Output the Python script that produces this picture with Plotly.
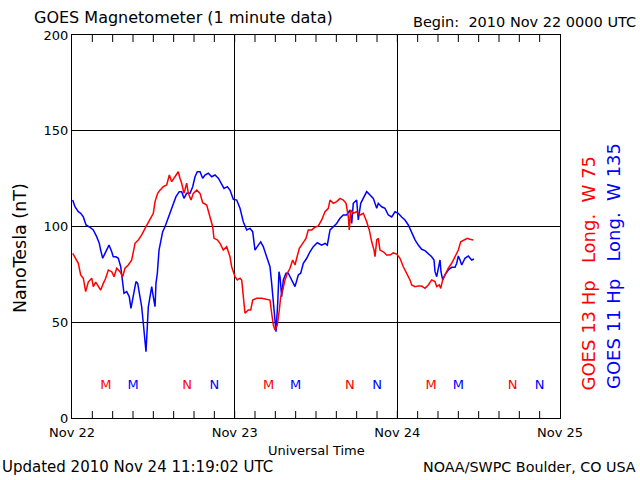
import pandas as pd
import plotly.graph_objects as go

# Hours since 2010-11-22 00:00 UTC and field values (nT)
g13_hours = [0.10, 0.44, 0.93, 1.28, 1.67, 2.02, 2.40, 2.91, 3.14, 3.50, 3.88, 4.23, 4.62, 4.97, 5.36, 5.86,
             6.20, 6.60, 7.08, 7.48, 7.82, 8.31, 8.81, 9.30, 9.78, 10.28, 10.92, 11.51, 12.00, 12.25, 12.64,
             12.98, 13.47, 13.97, 14.36, 14.71, 15.20, 15.68, 15.93, 16.18, 16.52, 16.92, 17.16, 17.56, 17.90,
             18.40, 18.89, 19.28, 19.87, 20.36, 20.76, 20.95, 21.44, 21.84, 22.32, 22.82, 23.31, 23.56, 24.05,
             24.39, 24.79, 25.04, 25.27, 25.52, 26.01, 26.37, 26.66, 27.25, 27.99, 28.73, 29.21, 29.46, 29.70,
             29.95, 30.29, 30.59, 30.79, 31.09, 31.43, 31.77, 32.16, 32.56, 32.90, 33.15, 33.54, 34.04, 34.52,
             34.86, 35.37, 35.85, 36.34, 36.84, 37.33, 37.81, 38.07, 38.55, 39.05, 39.54, 40.03, 40.43, 40.77,
             40.91, 41.12, 41.50, 42.00, 42.49, 42.98, 43.48, 43.86, 44.22, 44.56, 44.71, 44.96, 45.19, 45.44,
             45.93, 46.43, 46.92, 47.40, 47.91, 48.39, 48.88, 49.38, 49.87, 50.12, 50.61, 51.09, 51.59, 52.08,
             52.57, 53.07, 53.56, 53.81, 54.19, 54.40, 54.69, 55.03, 55.52, 56.02, 56.51, 57.00, 57.35, 57.98,
             58.32, 58.72, 59.21]
g13_values = [86, 84, 80.8, 74.7, 73, 66, 71, 73, 68.6, 71, 68.6, 66.8, 70.3, 73, 77.3, 76.4,
              73.8, 78.2, 76.4, 73.8, 78.2, 79.9, 82.5, 91.2, 93, 95.6, 99.9, 103.4, 106.9, 113, 117.3,
              119, 120.8, 121.7, 126.9, 123.4, 126, 128.6, 125.2, 122.6, 117.3, 122.6, 117.3, 113.8, 117.3,
              119, 117.3, 112.4, 111.2, 105, 99.9, 93.8, 93, 91.2, 87.7, 89.5, 84.2, 79, 73.8,
              72.1, 73, 72, 63.3, 54.7, 56.4, 56.4, 61.6, 62.5, 62.5, 62, 61.6, 54.7, 48.6,
              46, 48.6, 56.4, 63.3, 66.8, 72.1, 75.6, 78.2, 82.5, 79.9, 83.4, 88.6, 91.2, 93.8,
              98.2, 98.2, 99.6, 100.3, 103.4, 107.7, 109.5, 113.8, 112.1, 113, 114.7, 113.8, 112.1, 105,
              98.2, 108.6, 106.9, 107.7, 106, 106.9, 102.5, 98.2, 92, 87.7, 84.2, 93, 93.8, 87.7,
              86.8, 85.1, 85.1, 86.2, 85.6, 83.4, 79, 75.6, 72.1, 69.5, 68.6, 68.9, 68.9, 67.7,
              69.5, 72.1, 71.2, 68.6, 69.5, 67.7, 72.1, 74.7, 78.2, 80.8, 84.2, 87.7, 92, 93,
              93.8, 93.3, 93]

g11_hours = [0.10, 0.44, 0.93, 1.28, 1.67, 2.07, 2.66, 3.14, 3.64, 4.03, 4.23, 4.53, 4.87, 5.12, 5.46, 5.86,
             6.09, 6.49, 6.83, 7.19, 7.48, 7.67, 8.07, 8.45, 8.70, 9.04, 9.44, 9.69, 10.03, 10.28, 10.52,
             10.77, 10.92, 11.11, 11.26, 11.51, 11.76, 12.00, 12.25, 12.39, 12.59, 12.84, 13.09, 13.38, 13.72,
             14.06, 14.46, 14.95, 15.34, 15.83, 16.18, 16.52, 16.92, 17.41, 17.81, 18.15, 18.49, 18.89, 19.28,
             19.62, 20.11, 20.61, 21.10, 21.59, 22.09, 22.43, 22.91, 23.31, 23.80, 24.30, 24.79, 25.27, 25.78,
             26.26, 26.66, 27.00, 27.49, 27.84, 28.22, 28.73, 29.21, 29.46, 29.70, 29.85, 30.10, 30.35, 30.54,
             30.69, 30.94, 31.18, 31.57, 31.91, 32.41, 32.90, 33.39, 33.74, 34.13, 34.63, 35.11, 35.60, 36.19,
             36.84, 37.33, 37.67, 38.07, 38.55, 39.05, 39.54, 40.03, 40.53, 41.02, 41.27, 41.50, 42.00, 42.24,
             42.60, 42.98, 43.48, 43.97, 44.45, 44.96, 45.19, 45.69, 46.18, 46.67, 47.17, 47.66, 48.14, 48.64,
             49.13, 49.62, 50.12, 50.61, 51.09, 51.59, 52.08, 52.57, 53.07, 53.41, 53.56, 53.81, 54.04, 54.30,
             54.44, 54.69, 55.03, 55.52, 56.02, 56.51, 56.76, 57.00, 57.25, 57.50, 57.98, 58.47, 58.97, 59.31]
g11_values = [113.8, 110.3, 107.7, 106.9, 105, 100.8, 99.6, 98.2, 94.7, 91.2, 87.7, 83.4, 86, 87.7, 90.3, 86.8,
              84.2, 84.2, 83.4, 79, 70.3, 65.1, 66, 63.3, 57.3, 63.3, 71.2, 70.3, 63.3, 58.1, 49.5,
              40.7, 34.6, 47.7, 58.1, 63.3, 68.6, 63.3, 58.1, 70.3, 75.6, 87.7, 93, 97.3, 99.9,
              103.4, 106.9, 112.1, 115.6, 118.2, 118.2, 114.7, 117.3, 117.3, 120.8, 126, 128.6, 128.6, 125.2,
              126.9, 127.8, 126, 126.9, 125.2, 121.7, 119.9, 120.8, 119, 114.2, 113.8, 109.5, 102.5, 98.2,
              99, 97.3, 87.7, 90.3, 92, 89.5, 84.2, 79, 70.3, 61.6, 52.9, 45.1, 59.9, 76.4,
              73.8, 63.3, 72.1, 75.6, 75.6, 72.1, 68.6, 74.7, 75.6, 80.8, 83.4, 86.8, 89.5, 91.5,
              90.3, 91.2, 90.3, 98.2, 99.9, 101.6, 104.3, 106, 106, 108.6, 101.6, 112.1, 113.8, 103.4,
              112.1, 114.7, 118.2, 116.4, 114.7, 109.5, 112.1, 110.3, 109.5, 106, 105, 107.7, 106.9, 105,
              103.4, 100.8, 96.4, 93, 90.3, 88.1, 87.4, 86, 84.2, 82.5, 76.4, 73.8, 77.3, 82.5,
              76.4, 72.1, 74.7, 77.3, 78.7, 78.7, 80.8, 84.6, 82.5, 79.9, 83.4, 84.6, 82.5, 83]

# Local midnight (M) / noon (N) marker hours
g13_m_hours = [5, 29, 53]
g13_n_hours = [17, 41, 65]
g11_m_hours = [9, 33, 57]
g11_n_hours = [21, 45, 69]
marker_level = 17

# 3-hourly tick marks on top and bottom frame, labels only at day boundaries
tick_hours = list(range(3, 72, 3))
day_hours = [0, 24, 48, 72]
day_labels = ["Nov 22", "Nov 23", "Nov 24", "Nov 25"]
y_min, y_max = 0, 200

RED = "#ff0000"
BLUE = "#0000ff"
FONT = "DejaVu Sans"

base = pd.Timestamp("2010-11-22 00:00")


def to_time(hours):
    return [(base + pd.Timedelta(hours=h)).strftime("%Y-%m-%d %H:%M:%S") for h in hours]


fig = go.Figure()

# Tick marks: vertical-line markers sitting on the frame, clipped to the plot area
for yv in (y_min, y_max):
    fig.add_trace(go.Scatter(
        x=to_time(tick_hours), y=[yv] * len(tick_hours), mode="markers",
        marker=dict(symbol="line-ns", size=10, line=dict(color="black", width=1)),
        cliponaxis=True, showlegend=False, hoverinfo="skip"))

fig.add_trace(go.Scatter(x=to_time(g11_hours), y=g11_values, mode="lines",
                         line=dict(color=BLUE, width=1.5), showlegend=False))
fig.add_trace(go.Scatter(x=to_time(g13_hours), y=g13_values, mode="lines",
                         line=dict(color=RED, width=1.5), showlegend=False))

for hrs, txt, col in [(g13_m_hours, "M", RED), (g13_n_hours, "N", RED),
                      (g11_m_hours, "M", BLUE), (g11_n_hours, "N", BLUE)]:
    fig.add_trace(go.Scatter(x=to_time(hrs), y=[marker_level] * len(hrs), mode="text",
                             text=[txt] * len(hrs), textfont=dict(color=col, size=13, family=FONT),
                             showlegend=False, hoverinfo="skip"))

fig.update_layout(
    width=640, height=480,
    margin=dict(l=72, r=80, t=35, b=62),
    paper_bgcolor="white", plot_bgcolor="white",
    font=dict(family=FONT, color="black", size=13),
    xaxis=dict(
        type="date", range=to_time([0, 72]),
        tickvals=to_time(day_hours), ticktext=day_labels,
        showgrid=True, gridcolor="black", gridwidth=1,
        showline=True, linecolor="black", linewidth=1, mirror=True,
        ticks="", tickfont=dict(size=13, family=FONT), zeroline=False, ticklabelstandoff=2,
    ),
    yaxis=dict(
        range=[y_min, y_max], tickvals=[0, 50, 100, 150, 200],
        showgrid=True, gridcolor="black", gridwidth=1,
        showline=True, linecolor="black", linewidth=1, mirror=True,
        ticks="", tickfont=dict(size=13, family=FONT), zeroline=False,
    ),
)

ann = [
    dict(text="GOES Magnetometer (1 minute data)", x=32, y=18, size=16, xa="left", ya="middle", col="black", ang=0),
    dict(text="Begin:  2010 Nov 22 0000 UTC", x=638, y=22, size=14.5, xa="right", ya="middle", col="black", ang=0),
    dict(text="Universal Time", x=316, y=450, size=13, xa="center", ya="middle", col="black", ang=0),
    dict(text="Updated 2010 Nov 24 11:19:02 UTC", x=0, y=467, size=15, xa="left", ya="middle", col="black", ang=0),
    dict(text="NOAA/SWPC Boulder, CO USA", x=638, y=467, size=14.3, xa="right", ya="middle", col="black", ang=0),
    dict(text="NanoTesla (nT)", x=20, y=248, size=17.5, xa="center", ya="middle", col="black", ang=-90),
    dict(text="GOES 13 Hp   Long.  W 75", x=588, y=393, size=18, xa="center", ya="bottom", col=RED, ang=-90),
    dict(text="GOES 11 Hp   Long.  W 135", x=613, y=391, size=18, xa="center", ya="bottom", col=BLUE, ang=-90),
]
for a in ann:
    fig.add_annotation(
        text=a["text"], showarrow=False,
        xref="paper", yref="paper",
        x=(a["x"] - 72) / 488, y=(418 - a["y"]) / 383,
        xanchor=a["xa"], yanchor=a["ya"], textangle=a["ang"],
        font=dict(size=a["size"], color=a["col"], family=FONT),
    )

fig.write_html("out.html")
